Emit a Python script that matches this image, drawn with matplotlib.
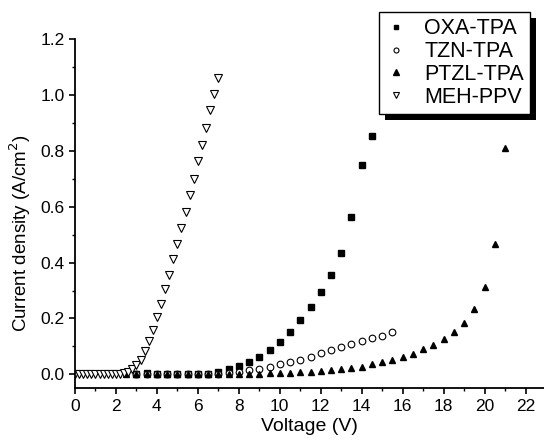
import matplotlib
matplotlib.use("Agg")
import matplotlib.pyplot as plt
from matplotlib.patches import Rectangle
from matplotlib.ticker import MultipleLocator

plt.rcParams['font.family'] = ['Liberation Sans', 'DejaVu Sans']

# J-V data (V, A/cm^2)
oxa_v = [3.0, 3.5, 4.0, 4.5, 5.0, 5.5, 6.0, 6.5, 7.0, 7.5, 8.0, 8.5, 9.0, 9.5,
         10.0, 10.5, 11.0, 11.5, 12.0, 12.5, 13.0, 13.5, 14.0, 14.5]
oxa_j = [0.0, 0.004, 0.0, 0.0, 0.0, 0.001, 0.001, 0.003, 0.0095, 0.018, 0.029,
         0.044, 0.063, 0.086, 0.116, 0.152, 0.194, 0.242, 0.295, 0.356, 0.435,
         0.564, 0.750, 0.853]

tzn_v = [3.0, 3.5, 4.0, 4.5, 5.0, 5.5, 6.0, 6.5, 7.0, 7.5, 8.0, 8.5, 9.0, 9.5,
         10.0, 10.5, 11.0, 11.5, 12.0, 12.5, 13.0, 13.5, 14.0, 14.5, 15.0, 15.5]
tzn_j = [0.0, 0.0, 0.0, 0.0, 0.0, 0.0, 0.0, 0.001, 0.002, 0.004, 0.008, 0.014,
         0.020, 0.026, 0.036, 0.045, 0.053, 0.063, 0.075, 0.087, 0.097, 0.107,
         0.119, 0.130, 0.139, 0.152]

ptzl_v = [2.5, 3.0, 3.5, 4.0, 4.5, 5.0, 5.5, 6.0, 6.5, 7.0, 7.5, 8.0, 8.5, 9.0,
          9.5, 10.0, 10.5, 11.0, 11.5, 12.0, 12.5, 13.0, 13.5, 14.0, 14.5, 15.0,
          15.5, 16.0, 16.5, 17.0, 17.5, 18.0, 18.5, 19.0, 19.5, 20.0, 20.5, 21.0]
ptzl_j = [0.0, 0.0, 0.0, 0.0, 0.0, 0.0, 0.0, 0.0, 0.0, 0.001, 0.001, 0.0015,
          0.002, 0.003, 0.004, 0.005, 0.006, 0.008, 0.0095, 0.012, 0.014, 0.018,
          0.021, 0.027, 0.036, 0.044, 0.052, 0.062, 0.072, 0.089, 0.106, 0.125,
          0.152, 0.185, 0.235, 0.312, 0.466, 0.810]

meh_v = [0.0, 0.2, 0.4, 0.6, 0.8, 1.0, 1.2, 1.4, 1.6, 1.8, 2.0, 2.2, 2.4, 2.6,
         2.8, 3.0, 3.2, 3.4, 3.6, 3.8, 4.0, 4.2, 4.4, 4.6, 4.8, 5.0, 5.2, 5.4,
         5.6, 5.8, 6.0, 6.2, 6.4, 6.6, 6.8, 7.0]
meh_j = [0.0, 0.0, 0.0, 0.0, 0.0, 0.0, 0.0, 0.0, 0.001, 0.001, 0.002, 0.003,
         0.005, 0.010, 0.018, 0.033, 0.053, 0.083, 0.118, 0.160, 0.206, 0.253,
         0.304, 0.356, 0.413, 0.468, 0.523, 0.582, 0.642, 0.701, 0.763, 0.823,
         0.884, 0.945, 1.004, 1.063]

fig = plt.figure(figsize=(5.44, 4.41), dpi=100)
# axes: x=0 at px 75, y=-0.05 at px 388, y=1.2 at px 39
ax = fig.add_axes([75 / 544, 52.7 / 441, 469 / 544, 349 / 441])

ms = 4.8
ax.plot(oxa_v, oxa_j, 's', color='black', ms=ms - 0.4, label='OXA-TPA')
ax.plot(tzn_v, tzn_j, 'o', mfc='white', mec='black', mew=0.8, ms=ms, label='TZN-TPA')
ax.plot(ptzl_v, ptzl_j, '^', color='black', ms=ms + 0.2, label='PTZL-TPA')
ax.plot(meh_v, meh_j, 'v', mfc='white', mec='black', mew=0.8, ms=ms + 0.4, label='MEH-PPV')

ax.set_xlim(0, 22.9)
ax.set_ylim(-0.05, 1.2)
ax.spines['top'].set_visible(False)
ax.spines['right'].set_visible(False)
ax.spines['left'].set_linewidth(1.3)
ax.spines['bottom'].set_linewidth(1.3)

ax.xaxis.set_major_locator(MultipleLocator(2))
ax.xaxis.set_minor_locator(MultipleLocator(1))
ax.yaxis.set_minor_locator(MultipleLocator(0.1))
ax.set_yticks([0.0, 0.2, 0.4, 0.6, 0.8, 1.0, 1.2])
ax.set_yticklabels(['0.0', '0.2', '0.4', '0.6', '0.8', '1.0', '1.2'])
ax.tick_params(which='major', direction='out', length=4, width=1.2, labelsize=12.5)
ax.tick_params(which='minor', direction='out', length=2.5, width=1.0)

ax.set_xlabel('Voltage (V)', fontsize=14, labelpad=3)
ax.set_ylabel('Current density (A/cm$^2$)', fontsize=13.5)
ax.yaxis.set_label_coords(-0.09, 0.445)

leg = ax.legend(loc='upper left', bbox_to_anchor=(379 / 544, 1 - 12 / 441),
                bbox_transform=fig.transFigure, frameon=True, fancybox=False,
                edgecolor='black', facecolor='white', framealpha=1.0,
                fontsize=15.5, markerscale=0.75,
                handlelength=1.0, handletextpad=0.8, labelspacing=0.08,
                borderpad=0.3, borderaxespad=0)
leg.get_frame().set_linewidth(1.0)
leg.set_zorder(6)

# black drop shadow behind the legend box
fig.canvas.draw()
bb = leg.get_window_extent()
off = 6
shadow = Rectangle((bb.x0 + off, bb.y0 - off), bb.width, bb.height,
                   transform=None, facecolor='black', edgecolor='none',
                   zorder=5, clip_on=False)
ax.add_artist(shadow)

plt.savefig('out.png', dpi=100)
